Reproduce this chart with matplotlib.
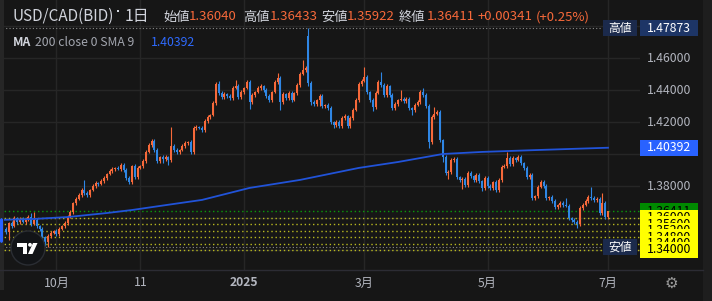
import matplotlib
matplotlib.use('Agg')
import matplotlib.pyplot as plt
import matplotlib.patches as mpatches
import numpy as np

plt.rcParams['font.family'] = ['Noto Sans CJK JP', 'DejaVu Sans']

# daily closes, one per bar (mid Sep 2024 .. early Jul 2025)
closes = [
    1.3513, 1.3569, 1.3550, 1.3600, 1.3575, 1.3594, 1.3575, 1.3594, 1.3606, 1.3563, 1.3588, 1.3550,
    1.3531, 1.3481, 1.3450, 1.3488, 1.3506, 1.3519, 1.3500, 1.3531, 1.3550, 1.3569, 1.3606, 1.3638,
    1.3694, 1.3719, 1.3744, 1.3775, 1.3756, 1.3744, 1.3775, 1.3800, 1.3819, 1.3813, 1.3831, 1.3850,
    1.3875, 1.3894, 1.3906, 1.3913, 1.3906, 1.3931, 1.3900, 1.3850, 1.3825, 1.3925, 1.3856, 1.3913,
    1.3925, 1.3956, 1.4013, 1.4056, 1.4081, 1.4025, 1.3956, 1.3981, 1.3969, 1.3981, 1.3963, 1.4050,
    1.4025, 1.4013, 1.4025, 1.4050, 1.4069, 1.4075, 1.4013, 1.4163, 1.4169, 1.4163, 1.4150, 1.4206,
    1.4231, 1.4244, 1.4319, 1.4438, 1.4381, 1.4356, 1.4375, 1.4363, 1.4350, 1.4413, 1.4425, 1.4356,
    1.4388, 1.4413, 1.4450, 1.4325, 1.4369, 1.4388, 1.4413, 1.4425, 1.4400, 1.4363, 1.4338, 1.4388,
    1.4450, 1.4475, 1.4325, 1.4375, 1.4350, 1.4381, 1.4338, 1.4381, 1.4431, 1.4500, 1.4525, 1.4538,
    1.4444, 1.4325, 1.4313, 1.4338, 1.4363, 1.4300, 1.4306, 1.4288, 1.4200, 1.4181, 1.4200, 1.4175,
    1.4225, 1.4238, 1.4175, 1.4225, 1.4275, 1.4338, 1.4438, 1.4456, 1.4481, 1.4388, 1.4338, 1.4294,
    1.4381, 1.4450, 1.4431, 1.4369, 1.4425, 1.4369, 1.4288, 1.4313, 1.4338, 1.4344, 1.4331, 1.4344,
    1.4288, 1.4275, 1.4306, 1.4325, 1.4388, 1.4369, 1.4300, 1.4075, 1.4231, 1.4250, 1.4263, 1.4088,
    1.3981, 1.3881, 1.3888, 1.3963, 1.3969, 1.3856, 1.3838, 1.3844, 1.3806, 1.3881, 1.3863, 1.3838,
    1.3869, 1.3831, 1.3788, 1.3850, 1.3800, 1.3788, 1.3825, 1.3775, 1.3838, 1.3919, 1.3925, 1.3975,
    1.3938, 1.3975, 1.3963, 1.3981, 1.3944, 1.3913, 1.3856, 1.3869, 1.3725, 1.3738, 1.3794, 1.3825,
    1.3800, 1.3725, 1.3731, 1.3706, 1.3669, 1.3681, 1.3694, 1.3681, 1.3675, 1.3600, 1.3588, 1.3575,
    1.3563, 1.3663, 1.3681, 1.3706, 1.3731, 1.3725, 1.3713, 1.3719, 1.3631, 1.3694, 1.3607, 1.36411,
]

# wick lengths above / below the body, in pips
upper_wick_pips = [
    10, 8, 12, 10, 8, 10, 12, 8, 10, 25, 50, 10, 8, 10, 8, 12, 10, 8,
    10, 12, 8, 10, 12, 10, 8, 12, 10, 15, 63, 10, 8, 12, 10, 8, 12, 10,
    8, 12, 10, 8, 12, 10, 15, 10, 12, 8, 10, 12, 8, 10, 12, 10, 15, 12,
    10, 8, 12, 10, 8, 119, 15, 10, 8, 12, 10, 8, 12, 10, 15, 8, 10, 12,
    10, 8, 12, 15, 18, 10, 12, 8, 10, 15, 38, 12, 10, 8, 15, 10, 12, 8,
    10, 12, 8, 10, 12, 8, 15, 31, 10, 12, 8, 10, 12, 8, 10, 15, 63, 12,
    49.3, 12, 10, 8, 12, 10, 8, 12, 10, 8, 12, 10, 15, 10, 8, 12, 10, 12,
    15, 12, 63, 10, 8, 12, 10, 15, 63, 10, 12, 8, 10, 12, 8, 56, 10, 12,
    10, 8, 12, 10, 15, 25, 10, 12, 10, 44, 12, 10, 8, 12, 10, 15, 12, 10,
    8, 12, 10, 15, 10, 8, 12, 10, 8, 15, 10, 12, 8, 10, 12, 15, 10, 38,
    10, 12, 8, 15, 10, 8, 12, 10, 12, 8, 10, 15, 10, 12, 8, 10, 12, 8,
    10, 12, 44, 10, 8, 12, 10, 15, 12, 10, 12, 63, 10, 12, 10, 62, 12, 2.2,
]
lower_wick_pips = [
    10, 50, 12, 8, 10, 12, 8, 10, 12, 10, 8, 12, 10, 15, 25, 31, 10, 8,
    12, 10, 8, 12, 10, 8, 12, 10, 8, 10, 12, 15, 10, 8, 12, 10, 8, 10,
    12, 8, 10, 12, 8, 10, 12, 15, 10, 12, 15, 10, 8, 10, 12, 8, 10, 12,
    15, 10, 25, 12, 32, 10, 12, 15, 10, 8, 12, 10, 15, 12, 10, 8, 15, 10,
    12, 10, 8, 12, 15, 10, 12, 15, 10, 12, 8, 15, 10, 12, 8, 44, 12, 10,
    8, 12, 10, 15, 12, 10, 8, 12, 50, 10, 15, 12, 10, 8, 12, 10, 8, 12,
    19, 19, 15, 10, 37, 12, 10, 15, 12, 20, 10, 15, 12, 10, 15, 12, 10, 8,
    12, 10, 8, 12, 15, 25, 10, 8, 12, 15, 10, 12, 15, 10, 12, 8, 10, 15,
    12, 31, 10, 8, 12, 10, 15, 37, 12, 10, 8, 15, 31, 15, 38, 10, 12, 15,
    12, 56, 15, 10, 12, 15, 10, 12, 20, 10, 15, 12, 10, 15, 12, 10, 8, 12,
    10, 12, 10, 8, 12, 15, 12, 10, 15, 12, 10, 8, 12, 15, 10, 12, 15, 10,
    12, 10, 8, 15, 12, 10, 25, 12, 10, 8, 12, 10, 12, 10, 15, 10, 12, 11.8,
]
# bars whose open is not the previous close (first bar, Feb 3 gap, today)
gap_opens = {0: 1.3531, 108: 1.4738, 215: 1.3604}

# 200 SMA read at a few bars
ma_bars = [-2, 10, 22, 36, 45, 60, 70, 87, 105, 126, 140, 156, 170, 190, 215]
ma_values = [1.3588, 1.3594, 1.3606, 1.3631, 1.3650, 1.3688, 1.3713, 1.3788,
             1.3838, 1.3913, 1.3950, 1.4000, 1.4013, 1.4025, 1.40392]

month_bars = [18, 48, 85, 128, 172, 215]
month_labels = ['10月', '11', '2025', '3月', '5月', '7月']
grid_prices = [1.34, 1.36, 1.38, 1.40, 1.42, 1.44, 1.46, 1.48]
shown_prices = [1.38, 1.42, 1.44, 1.46]   # the others sit under price tags
alert_levels = [1.36, 1.356, 1.352, 1.348, 1.344, 1.34]

bar_open, bar_high, bar_low, bar_close = 1.36040, 1.36433, 1.35922, 1.36411
change, change_pct = 0.00341, 0.25
range_high, range_low = 1.47873, 1.3419
ma_last = 1.40392

BG = '#161616'
GRID = '#262626'
TXT = '#b2b5be'
UP = '#f7693a'
DN = '#2f86e4'
MA_C = '#2153d8'

W, H = 712, 301
fig = plt.figure(figsize=(W / 100, H / 100), dpi=100, facecolor=BG)
ax = fig.add_axes([0, 31 / H, 640 / W, 270 / H])
ax.set_facecolor(BG)
ax.set_xlim(-6 / 2.8, 634 / 2.8)
ax.set_ylim(1.3275, 1.49625)
for s in ax.spines.values():
    s.set_visible(False)
ax.set_xticks([])
ax.set_yticks([])

# grid
ax.hlines(grid_prices, -10, 300, colors=GRID, linewidth=1, zorder=0)
ax.vlines(month_bars, 1.3, 1.5, colors=GRID, linewidth=1, zorder=0)

# candles
c = np.array(closes)
o = np.array([gap_opens.get(i, closes[i - 1]) for i in range(len(closes))])
hi = np.maximum(o, c) + np.array(upper_wick_pips) / 10000
lo = np.minimum(o, c) - np.array(lower_wick_pips) / 10000
x = np.arange(len(c))
cols = np.where(c >= o, UP, DN)
ax.vlines(x, lo, hi, colors=cols, linewidth=0.8, zorder=3)
ax.bar(x, np.maximum(np.abs(c - o), 0.0004), bottom=np.minimum(o, c), width=0.78,
       color=cols, linewidth=0, zorder=4)

# moving average
ax.plot(ma_bars, ma_values, color=MA_C, linewidth=1.3, zorder=5)

# level lines
for lvl in alert_levels:
    ax.axhline(lvl, color='#b8b820', linewidth=1.0, linestyle=(0, (1, 2)), zorder=2)
ax.axhline(bar_close, color='#0a9a0a', linewidth=1.0, linestyle=(0, (1, 2)), zorder=2)
ax.hlines([range_high, range_low], -10, 212.5, colors='#8a8a8a', linewidth=0.8,
          linestyles=(0, (1, 2)), zorder=2)

# price scale
ty = ax.get_yaxis_transform()
for p in shown_prices:
    ax.text(1.045, p, f'{p:.5f}', transform=ty, ha='center', va='center',
            color=TXT, fontsize=8.8, clip_on=False, zorder=6)


def tag(y, text, face, fg, z, x0=1.0, x1=1.0906, fs=8.8):
    ax.add_patch(mpatches.Rectangle((x0, y - 0.005), x1 - x0, 0.01, transform=ty,
                                    facecolor=face, edgecolor='none', clip_on=False, zorder=z))
    ax.text((x0 + x1) / 2, y, text, transform=ty, ha='center', va='center', color=fg,
            fontsize=fs, clip_on=False, zorder=z + 0.5)


tag(ma_last, f'{ma_last:.5f}', '#2962ff', 'white', 8)
tag(range_high, f'{range_high:.5f}', '#1d3566', 'white', 8)
tag(range_high, '高値', '#1b2a4c', 'white', 8, 603 / 640, 637 / 640, 8.5)
tag(range_low, '安値', '#1b2a4c', 'white', 8, 603 / 640, 637 / 640, 8.5)
tag(bar_close, f'{bar_close:.5f}', '#008a00', 'black', 9)
for k, lvl in enumerate(alert_levels):
    tag(lvl, f'{lvl:.5f}', '#ffff00', 'black', 10 + k)

# time scale
tx = ax.get_xaxis_transform()
for b, lab in zip(month_bars, month_labels):
    ax.text(b, -13 / 270, lab, transform=tx, ha='center', va='center', color=TXT,
            fontsize=8.8, fontweight='bold' if lab == '2025' else 'normal', clip_on=False)

# overlay in pixel coordinates for the chrome
ui = fig.add_axes([0, 0, 1, 1], zorder=20)
ui.set_xlim(0, W)
ui.set_ylim(H, 0)
ui.axis('off')
ui.patch.set_alpha(0)

ui.add_patch(mpatches.Rectangle((0, 0), 4, 290, facecolor='#262626', edgecolor='none'))
ui.add_patch(mpatches.FancyBboxPatch((0, 218), 3, 25, boxstyle='round,pad=0,rounding_size=2',
                                     facecolor='#2962ff', edgecolor='none'))
ui.add_patch(mpatches.Rectangle((703, 0), 9, H, facecolor='#1e1e1e', edgecolor='none'))
ui.plot([0, 703], [270, 270], color='#2c2c34', linewidth=1)

# header
WHITE = '#d1d4dc'
ui.text(13, 16, 'USD/CAD(BID)', color=WHITE, fontsize=11, va='center')
ui.add_patch(mpatches.Rectangle((117, 10), 2, 2, facecolor=WHITE, edgecolor='none'))
ui.text(125, 16, '1日', color=WHITE, fontsize=11.5, va='center')
head = [(163, '始値', WHITE), (189, f'{bar_open:.5f}', UP),
        (243, '高値', WHITE), (270, f'{bar_high:.5f}', UP),
        (321, '安値', WHITE), (347, f'{bar_low:.5f}', UP),
        (399, '終値', WHITE), (427, f'{bar_close:.5f}', UP),
        (478, f'+{change:.5f}', UP), (536, f'(+{change_pct:.2f}%)', UP)]
for hx, s, col in head:
    ui.text(hx, 17, s, color=col, fontsize=9.5, va='center')

ui.text(13, 43, 'MA', color=WHITE, fontsize=8.8, va='center', fontweight='bold')
ui.text(35, 43, '200 close 0 SMA 9', color='#a3a6af', fontsize=8.8, va='center')
ui.text(151, 43, f'{ma_last:.5f}', color='#2f6bff', fontsize=8.8, va='center')

# logo
ui.add_patch(mpatches.Circle((28, 248), 17, facecolor='#121417', edgecolor='#2a2d33', linewidth=1))
ui.add_patch(mpatches.Polygon([(17, 243), (27, 243), (27, 254), (22.5, 254), (22.5, 247), (17, 247)],
                              closed=True, facecolor='white', edgecolor='none'))
ui.add_patch(mpatches.Circle((30, 244.8), 1.9, facecolor='white', edgecolor='none'))
ui.add_patch(mpatches.Polygon([(33, 243), (37.5, 243), (32.5, 254), (28, 254)],
                              closed=True, facecolor='white', edgecolor='none'))

# settings gear
ui.text(671, 283, '⚙', color='#9a9a9a', fontsize=11, ha='center', va='center',
        family='DejaVu Sans')

fig.savefig('out.png', dpi=100, facecolor=BG)
